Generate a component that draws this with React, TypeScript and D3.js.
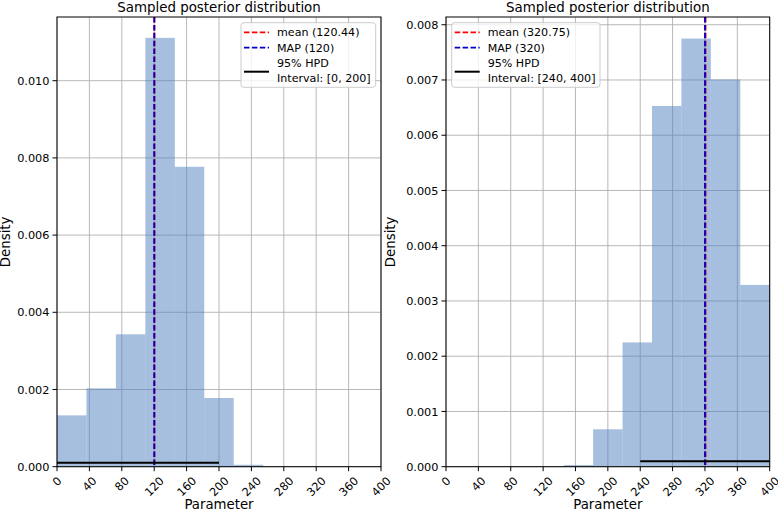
import React from "react";
import * as d3 from "d3";

const W = 778;
const H = 512;

const binCount = 11;
const xDomain: [number, number] = [0, 400];
const xTickValues = [0, 40, 80, 120, 160, 200, 240, 280, 320, 360, 400];

// left panel
const leftDensities = [0.00133, 0.00203, 0.00343, 0.01111, 0.00777, 0.00178, 0.00005, 0, 0, 0, 0];
const leftYMax = 0.01165;
const leftYTicks = [0, 0.002, 0.004, 0.006, 0.008, 0.01];
const leftMean = 120.44;
const leftMAP = 120;
const leftHPD: [number, number] = [0, 200];
const leftLegend = ["mean (120.44)", "MAP (120)", "95% HPD", "Interval: [0, 200]"];

// right panel
const rightDensities = [0, 0, 0, 0, 0.00003, 0.000677, 0.00225, 0.00653, 0.00775, 0.00701, 0.00329];
const rightYMax = 0.00814;
const rightYTicks = [0, 0.001, 0.002, 0.003, 0.004, 0.005, 0.006, 0.007, 0.008];
const rightMean = 320.75;
const rightMAP = 320;
const rightHPD: [number, number] = [240, 400];
const rightLegend = ["mean (320.75)", "MAP (320)", "95% HPD", "Interval: [240, 400]"];

const hpdLevel = 0.0001;
const FONT = "'DejaVu Sans'";

type PanelProps = {
  x0: number;
  x1: number;
  y0: number;
  y1: number;
  densities: number[];
  yMax: number;
  yTicks: number[];
  yFmt: (v: number) => string;
  mean: number;
  map: number;
  hpd: [number, number];
  legend: string[];
  legendBox: { x0: number; x1: number };
  yLabelX: number;
};

function Panel(p: PanelProps) {
  const x = d3.scaleLinear().domain(xDomain).range([p.x0, p.x1]);
  const y = d3.scaleLinear().domain([0, p.yMax]).range([p.y1, p.y0]);
  const binW = (xDomain[1] - xDomain[0]) / binCount;
  const bins = p.densities.map((v, i) => ({ a: xDomain[0] + i * binW, b: xDomain[0] + (i + 1) * binW, v }));
  const cx = (p.x0 + p.x1) / 2;
  const tickFont = 11.3;
  const lb = p.legendBox;
  const lTop = 22.7;
  const lBot = 87.3;
  return (
    <g>
      {xTickValues.map((t) => (
        <line key={"gx" + t} x1={x(t)} x2={x(t)} y1={p.y0} y2={p.y1} stroke="#b0b0b0" strokeWidth={0.9} />
      ))}
      {p.yTicks.map((t) => (
        <line key={"gy" + t} x1={p.x0} x2={p.x1} y1={y(t)} y2={y(t)} stroke="#b0b0b0" strokeWidth={0.9} />
      ))}
      {bins.map((b, i) =>
        b.v > 0 ? (
          <rect
            key={"b" + i}
            x={x(b.a)}
            width={x(b.b) - x(b.a)}
            y={y(b.v)}
            height={y(0) - y(b.v)}
            fill="#4f7fc0"
            fillOpacity={0.5}
          />
        ) : null
      )}
      <line x1={x(p.mean)} x2={x(p.mean)} y1={p.y0} y2={p.y1} stroke="#ff0000" strokeWidth={1.8} strokeDasharray="5.5,2.4" />
      <line x1={x(p.map)} x2={x(p.map)} y1={p.y0} y2={p.y1} stroke="#0000cc" strokeWidth={1.8} strokeDasharray="5.5,2.4" />
      <line x1={x(p.hpd[0])} x2={x(p.hpd[1])} y1={y(hpdLevel)} y2={y(hpdLevel)} stroke="#000" strokeWidth={2} />
      <rect x={p.x0} y={p.y0} width={p.x1 - p.x0} height={p.y1 - p.y0} fill="none" stroke="#000" strokeWidth={1} />
      {p.yTicks.map((t) => (
        <g key={"yt" + t}>
          <line x1={p.x0 - 4.5} x2={p.x0} y1={y(t)} y2={y(t)} stroke="#000" strokeWidth={1} />
          <text x={p.x0 - 7.5} y={y(t)} dy="0.36em" textAnchor="end" fontSize={tickFont} style={{ fontFamily: FONT }} fill="#000">
            {p.yFmt(t)}
          </text>
        </g>
      ))}
      {xTickValues.map((t) => {
        const label = String(t);
        const w = label.length * 0.636 * tickFont;
        const h = tickFont * 1.15;
        const bb = (w + h) * 0.7071;
        const cy = p.y1 + 4.5 + 3 + bb / 2;
        return (
          <g key={"xt" + t}>
            <line x1={x(t)} x2={x(t)} y1={p.y1} y2={p.y1 + 4.5} stroke="#000" strokeWidth={1} />
            <text
              x={x(t)}
              y={cy}
              dy="0.36em"
              textAnchor="middle"
              fontSize={tickFont}
              style={{ fontFamily: FONT }}
              fill="#000"
              transform={`rotate(-45 ${x(t)} ${cy})`}
            >
              {label}
            </text>
          </g>
        );
      })}
      <text x={cx} y={11.5} textAnchor="middle" fontSize={13.4} style={{ fontFamily: FONT }} fill="#000">
        Sampled posterior distribution
      </text>
      <text x={cx} y={509} textAnchor="middle" fontSize={13.3} style={{ fontFamily: FONT }} fill="#000">
        Parameter
      </text>
      <text
        x={p.yLabelX}
        y={(p.y0 + p.y1) / 2}
        textAnchor="middle"
        fontSize={13.3}
        style={{ fontFamily: FONT }}
        fill="#000"
        transform={`rotate(-90 ${p.yLabelX} ${(p.y0 + p.y1) / 2})`}
      >
        Density
      </text>
      <g>
        <rect
          x={lb.x0}
          y={lTop}
          width={lb.x1 - lb.x0}
          height={lBot - lTop}
          rx={3}
          fill="#fff"
          fillOpacity={0.8}
          stroke="#cccccc"
          strokeWidth={1}
        />
        <line x1={lb.x0 + 3} x2={lb.x0 + 28} y1={32.3} y2={32.3} stroke="#ff0000" strokeWidth={1.8} strokeDasharray="5.5,2.4" />
        <line x1={lb.x0 + 3} x2={lb.x0 + 28} y1={47.7} y2={47.7} stroke="#0000cc" strokeWidth={1.8} strokeDasharray="5.5,2.4" />
        <line x1={lb.x0 + 3} x2={lb.x0 + 28} y1={71.7} y2={71.7} stroke="#000" strokeWidth={2} />
        {[32.3, 47.7, 63.3, 78.0].map((yy, i) => (
          <text key={"lg" + i} x={lb.x0 + 36} y={yy} dy="0.36em" fontSize={11.1} style={{ fontFamily: FONT }} fill="#000">
            {p.legend[i]}
          </text>
        ))}
      </g>
    </g>
  );
}

export default function App() {
  const fmt3 = d3.format(".3f");
  return (
    <svg width={W} height={H} style={{ position: "absolute", left: 0, top: 0, background: "#fff" }}>
      <rect x={0} y={0} width={W} height={H} fill="#fff" />
      <Panel
        x0={57}
        x1={381}
        y0={17}
        y1={466.7}
        densities={leftDensities}
        yMax={leftYMax}
        yTicks={leftYTicks}
        yFmt={fmt3}
        mean={leftMean}
        map={leftMAP}
        hpd={leftHPD}
        legend={leftLegend}
        legendBox={{ x0: 241, x1: 375.7 }}
        yLabelX={10.5}
      />
      <Panel
        x0={446}
        x1={769.7}
        y0={17}
        y1={466.7}
        densities={rightDensities}
        yMax={rightYMax}
        yTicks={rightYTicks}
        yFmt={fmt3}
        mean={rightMean}
        map={rightMAP}
        hpd={rightHPD}
        legend={rightLegend}
        legendBox={{ x0: 451.7, x1: 600 }}
        yLabelX={395}
      />
    </svg>
  );
}
